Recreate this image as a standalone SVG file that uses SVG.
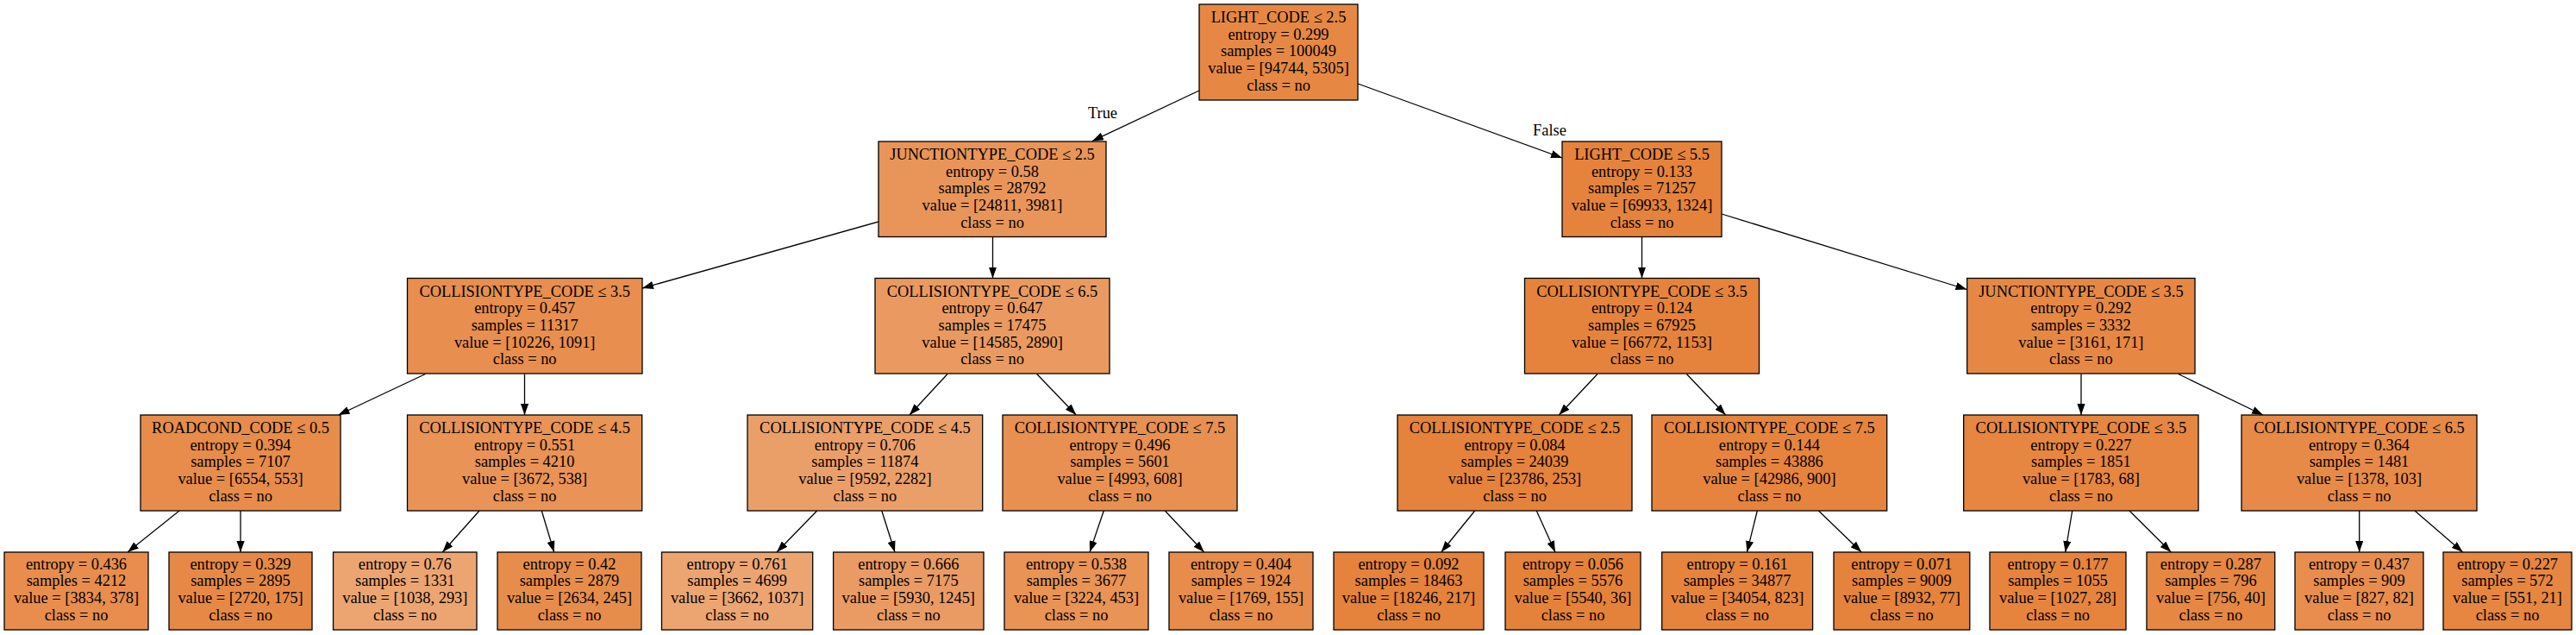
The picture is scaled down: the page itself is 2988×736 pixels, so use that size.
<svg xmlns="http://www.w3.org/2000/svg" width="2988" height="736" viewBox="0 0 2988 736">
<style>
text{font-family:"Liberation Serif","Times New Roman",serif;font-size:18.4px;fill:#000;text-anchor:middle}
.n rect{stroke:#000;stroke-width:1.3}
.e line{stroke:#000;stroke-width:1.3;marker-end:url(#ah)}
</style>
<defs>
<marker id="ah" markerUnits="userSpaceOnUse" viewBox="0 0 13 9.2" markerWidth="13" markerHeight="9.2" refX="13" refY="4.6" orient="auto">
<path d="M0,0 L13,4.6 L0,9.2 z" fill="#000"/>
</marker>
</defs>
<rect width="2988" height="736" fill="#fff"/>
<g id="connectors" class="e">
<line x1="1391" y1="105" x2="1267" y2="163.5"/>
<line x1="1575" y1="97" x2="1812" y2="183"/>
<line x1="1019" y1="257" x2="745" y2="334"/>
<line x1="1151.5" y1="275" x2="1151.5" y2="322.5"/>
<line x1="1904.5" y1="275" x2="1904.5" y2="322.5"/>
<line x1="1997" y1="248" x2="2281.5" y2="335.5"/>
<line x1="493.5" y1="433.5" x2="392.5" y2="481"/>
<line x1="608.5" y1="433.5" x2="608.5" y2="481"/>
<line x1="1099" y1="433.5" x2="1055" y2="481"/>
<line x1="1202.7" y1="433.5" x2="1248.3" y2="481"/>
<line x1="1853" y1="433.5" x2="1808.3" y2="481"/>
<line x1="1956.4" y1="433.5" x2="2001.6" y2="481"/>
<line x1="2414" y1="433.5" x2="2414" y2="481"/>
<line x1="2526.7" y1="433.5" x2="2625" y2="481"/>
<line x1="208" y1="592" x2="148" y2="640"/>
<line x1="279" y1="592" x2="279" y2="640"/>
<line x1="556" y1="592" x2="513.3" y2="640"/>
<line x1="628.3" y1="592" x2="642.7" y2="640"/>
<line x1="947.7" y1="592" x2="901" y2="640"/>
<line x1="1022.8" y1="592" x2="1038" y2="640"/>
<line x1="1280.3" y1="592" x2="1264" y2="640"/>
<line x1="1351.3" y1="592" x2="1396.7" y2="640"/>
<line x1="1710.7" y1="592" x2="1671.7" y2="640"/>
<line x1="1782.3" y1="592" x2="1804" y2="640"/>
<line x1="2038.3" y1="592" x2="2026.4" y2="640"/>
<line x1="2109.5" y1="592" x2="2159.2" y2="640"/>
<line x1="2403.7" y1="592" x2="2395.7" y2="640"/>
<line x1="2470" y1="592" x2="2518.3" y2="640"/>
<line x1="2736.7" y1="592" x2="2736.7" y2="640"/>
<line x1="2801" y1="592" x2="2856.7" y2="640"/>
<text x="1279" y="137">True</text>
<text x="1797.5" y="157">False</text>
</g>
<g id="n0" class="n"><rect x="1391" y="5" width="184" height="111" fill="#e68844"/>
<text x="1483" y="26">LIGHT_CODE ≤ 2.5</text><text x="1483" y="45.7">entropy = 0.299</text><text x="1483" y="65.3">samples = 100049</text><text x="1483" y="85">value = [94744, 5305]</text><text x="1483" y="104.6">class = no</text></g>
<g id="n1" class="n"><rect x="1019" y="164" width="264" height="110.5" fill="#e99559"/>
<text x="1151" y="185">JUNCTIONTYPE_CODE ≤ 2.5</text><text x="1151" y="204.7">entropy = 0.58</text><text x="1151" y="224.3">samples = 28792</text><text x="1151" y="244">value = [24811, 3981]</text><text x="1151" y="263.6">class = no</text></g>
<g id="n2" class="n"><rect x="1812" y="164" width="185" height="110.5" fill="#e5833d"/>
<text x="1904.5" y="185">LIGHT_CODE ≤ 5.5</text><text x="1904.5" y="204.7">entropy = 0.133</text><text x="1904.5" y="224.3">samples = 71257</text><text x="1904.5" y="244">value = [69933, 1324]</text><text x="1904.5" y="263.6">class = no</text></g>
<g id="n3" class="n"><rect x="472.5" y="322.5" width="272.5" height="110.5" fill="#e88e4e"/>
<text x="608.7" y="343.5">COLLISIONTYPE_CODE ≤ 3.5</text><text x="608.7" y="363.2">entropy = 0.457</text><text x="608.7" y="382.8">samples = 11317</text><text x="608.7" y="402.5">value = [10226, 1091]</text><text x="608.7" y="422.1">class = no</text></g>
<g id="n4" class="n"><rect x="1015" y="322.5" width="272" height="110.5" fill="#ea9a60"/>
<text x="1151" y="343.5">COLLISIONTYPE_CODE ≤ 6.5</text><text x="1151" y="363.2">entropy = 0.647</text><text x="1151" y="382.8">samples = 17475</text><text x="1151" y="402.5">value = [14585, 2890]</text><text x="1151" y="422.1">class = no</text></g>
<g id="n5" class="n"><rect x="1768.5" y="322.5" width="272" height="110.5" fill="#e5833c"/>
<text x="1904.5" y="343.5">COLLISIONTYPE_CODE ≤ 3.5</text><text x="1904.5" y="363.2">entropy = 0.124</text><text x="1904.5" y="382.8">samples = 67925</text><text x="1904.5" y="402.5">value = [66772, 1153]</text><text x="1904.5" y="422.1">class = no</text></g>
<g id="n6" class="n"><rect x="2281.7" y="322.5" width="264.3" height="110.5" fill="#e68844"/>
<text x="2413.9" y="343.5">JUNCTIONTYPE_CODE ≤ 3.5</text><text x="2413.9" y="363.2">entropy = 0.292</text><text x="2413.9" y="382.8">samples = 3332</text><text x="2413.9" y="402.5">value = [3161, 171]</text><text x="2413.9" y="422.1">class = no</text></g>
<g id="n7" class="n"><rect x="163" y="481" width="232" height="111" fill="#e78c4a"/>
<text x="279" y="502">ROADCOND_CODE ≤ 0.5</text><text x="279" y="521.7">entropy = 0.394</text><text x="279" y="541.3">samples = 7107</text><text x="279" y="561">value = [6554, 553]</text><text x="279" y="580.6">class = no</text></g>
<g id="n8" class="n"><rect x="472.5" y="481" width="272.2" height="111" fill="#e99356"/>
<text x="608.6" y="502">COLLISIONTYPE_CODE ≤ 4.5</text><text x="608.6" y="521.7">entropy = 0.551</text><text x="608.6" y="541.3">samples = 4210</text><text x="608.6" y="561">value = [3672, 538]</text><text x="608.6" y="580.6">class = no</text></g>
<g id="n9" class="n"><rect x="867" y="481" width="272.7" height="111" fill="#eb9f68"/>
<text x="1003.4" y="502">COLLISIONTYPE_CODE ≤ 4.5</text><text x="1003.4" y="521.7">entropy = 0.706</text><text x="1003.4" y="541.3">samples = 11874</text><text x="1003.4" y="561">value = [9592, 2282]</text><text x="1003.4" y="580.6">class = no</text></g>
<g id="n10" class="n"><rect x="1163" y="481" width="272" height="111" fill="#e89051"/>
<text x="1299" y="502">COLLISIONTYPE_CODE ≤ 7.5</text><text x="1299" y="521.7">entropy = 0.496</text><text x="1299" y="541.3">samples = 5601</text><text x="1299" y="561">value = [4993, 608]</text><text x="1299" y="580.6">class = no</text></g>
<g id="n11" class="n"><rect x="1621" y="481" width="272" height="111" fill="#e5823b"/>
<text x="1757" y="502">COLLISIONTYPE_CODE ≤ 2.5</text><text x="1757" y="521.7">entropy = 0.084</text><text x="1757" y="541.3">samples = 24039</text><text x="1757" y="561">value = [23786, 253]</text><text x="1757" y="580.6">class = no</text></g>
<g id="n12" class="n"><rect x="1916" y="481" width="272.7" height="111" fill="#e6843d"/>
<text x="2052.4" y="502">COLLISIONTYPE_CODE ≤ 7.5</text><text x="2052.4" y="521.7">entropy = 0.144</text><text x="2052.4" y="541.3">samples = 43886</text><text x="2052.4" y="561">value = [42986, 900]</text><text x="2052.4" y="580.6">class = no</text></g>
<g id="n13" class="n"><rect x="2277.7" y="481" width="272.3" height="111" fill="#e68641"/>
<text x="2413.9" y="502">COLLISIONTYPE_CODE ≤ 3.5</text><text x="2413.9" y="521.7">entropy = 0.227</text><text x="2413.9" y="541.3">samples = 1851</text><text x="2413.9" y="561">value = [1783, 68]</text><text x="2413.9" y="580.6">class = no</text></g>
<g id="n14" class="n"><rect x="2600" y="481" width="273" height="111" fill="#e78a48"/>
<text x="2736.5" y="502">COLLISIONTYPE_CODE ≤ 6.5</text><text x="2736.5" y="521.7">entropy = 0.364</text><text x="2736.5" y="541.3">samples = 1481</text><text x="2736.5" y="561">value = [1378, 103]</text><text x="2736.5" y="580.6">class = no</text></g>
<g id="l1" class="n"><rect x="5" y="640" width="167" height="90" fill="#e88d4d"/>
<text x="88.5" y="659.7">entropy = 0.436</text><text x="88.5" y="679.3">samples = 4212</text><text x="88.5" y="699">value = [3834, 378]</text><text x="88.5" y="718.6">class = no</text></g>
<g id="l2" class="n"><rect x="196" y="640" width="166" height="90" fill="#e78946"/>
<text x="279" y="659.7">entropy = 0.329</text><text x="279" y="679.3">samples = 2895</text><text x="279" y="699">value = [2720, 175]</text><text x="279" y="718.6">class = no</text></g>
<g id="l3" class="n"><rect x="386.5" y="640" width="166.5" height="90" fill="#eca571"/>
<text x="469.8" y="659.7">entropy = 0.76</text><text x="469.8" y="679.3">samples = 1331</text><text x="469.8" y="699">value = [1038, 293]</text><text x="469.8" y="718.6">class = no</text></g>
<g id="l4" class="n"><rect x="577" y="640" width="167" height="90" fill="#e78d4b"/>
<text x="660.5" y="659.7">entropy = 0.42</text><text x="660.5" y="679.3">samples = 2879</text><text x="660.5" y="699">value = [2634, 245]</text><text x="660.5" y="718.6">class = no</text></g>
<g id="l5" class="n"><rect x="767.5" y="640" width="175.2" height="90" fill="#eca571"/>
<text x="855.1" y="659.7">entropy = 0.761</text><text x="855.1" y="679.3">samples = 4699</text><text x="855.1" y="699">value = [3662, 1037]</text><text x="855.1" y="718.6">class = no</text></g>
<g id="l6" class="n"><rect x="966.6" y="640" width="174.4" height="90" fill="#ea9b63"/>
<text x="1053.8" y="659.7">entropy = 0.666</text><text x="1053.8" y="679.3">samples = 7175</text><text x="1053.8" y="699">value = [5930, 1245]</text><text x="1053.8" y="718.6">class = no</text></g>
<g id="l7" class="n"><rect x="1165" y="640" width="167" height="90" fill="#e99355"/>
<text x="1248.5" y="659.7">entropy = 0.538</text><text x="1248.5" y="679.3">samples = 3677</text><text x="1248.5" y="699">value = [3224, 453]</text><text x="1248.5" y="718.6">class = no</text></g>
<g id="l8" class="n"><rect x="1356" y="640" width="167" height="90" fill="#e78c4a"/>
<text x="1439.5" y="659.7">entropy = 0.404</text><text x="1439.5" y="679.3">samples = 1924</text><text x="1439.5" y="699">value = [1769, 155]</text><text x="1439.5" y="718.6">class = no</text></g>
<g id="l9" class="n"><rect x="1547" y="640" width="174" height="90" fill="#e5823b"/>
<text x="1634" y="659.7">entropy = 0.092</text><text x="1634" y="679.3">samples = 18463</text><text x="1634" y="699">value = [18246, 217]</text><text x="1634" y="718.6">class = no</text></g>
<g id="l10" class="n"><rect x="1746" y="640" width="157" height="90" fill="#e5823a"/>
<text x="1824.5" y="659.7">entropy = 0.056</text><text x="1824.5" y="679.3">samples = 5576</text><text x="1824.5" y="699">value = [5540, 36]</text><text x="1824.5" y="718.6">class = no</text></g>
<g id="l11" class="n"><rect x="1927.7" y="640" width="174.9" height="90" fill="#e6843e"/>
<text x="2015.1" y="659.7">entropy = 0.161</text><text x="2015.1" y="679.3">samples = 34877</text><text x="2015.1" y="699">value = [34054, 823]</text><text x="2015.1" y="718.6">class = no</text></g>
<g id="l12" class="n"><rect x="2127" y="640" width="157.8" height="90" fill="#e5823b"/>
<text x="2205.9" y="659.7">entropy = 0.071</text><text x="2205.9" y="679.3">samples = 9009</text><text x="2205.9" y="699">value = [8932, 77]</text><text x="2205.9" y="718.6">class = no</text></g>
<g id="l13" class="n"><rect x="2308" y="640" width="158" height="90" fill="#e6843e"/>
<text x="2387" y="659.7">entropy = 0.177</text><text x="2387" y="679.3">samples = 1055</text><text x="2387" y="699">value = [1027, 28]</text><text x="2387" y="718.6">class = no</text></g>
<g id="l14" class="n"><rect x="2490" y="640" width="148.7" height="90" fill="#e68743"/>
<text x="2564.4" y="659.7">entropy = 0.287</text><text x="2564.4" y="679.3">samples = 796</text><text x="2564.4" y="699">value = [756, 40]</text><text x="2564.4" y="718.6">class = no</text></g>
<g id="l15" class="n"><rect x="2662" y="640" width="149" height="90" fill="#e88d4d"/>
<text x="2736.5" y="659.7">entropy = 0.437</text><text x="2736.5" y="679.3">samples = 909</text><text x="2736.5" y="699">value = [827, 82]</text><text x="2736.5" y="718.6">class = no</text></g>
<g id="l16" class="n"><rect x="2834" y="640" width="149" height="90" fill="#e68641"/>
<text x="2908.5" y="659.7">entropy = 0.227</text><text x="2908.5" y="679.3">samples = 572</text><text x="2908.5" y="699">value = [551, 21]</text><text x="2908.5" y="718.6">class = no</text></g>
</svg>
